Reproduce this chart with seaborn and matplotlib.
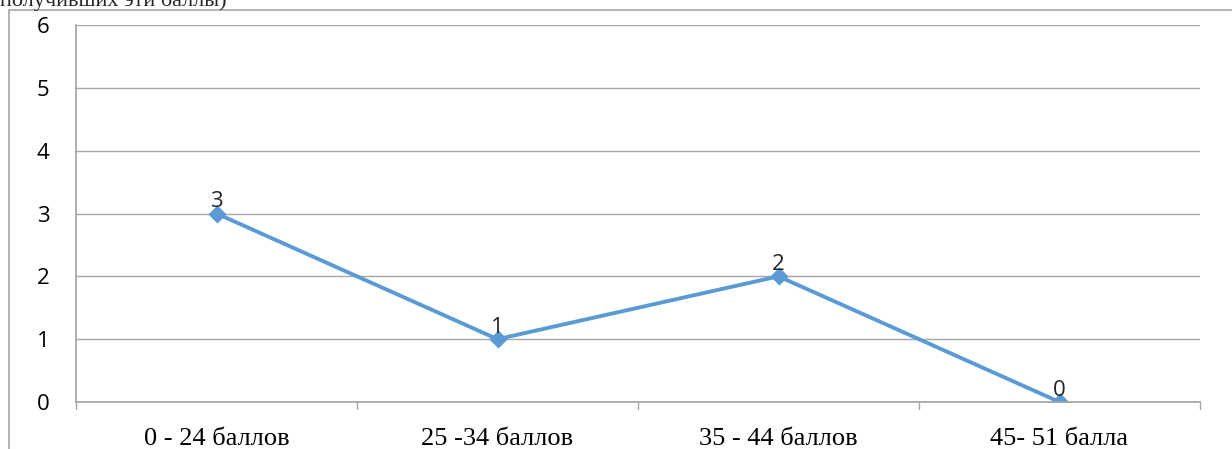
import matplotlib
matplotlib.use("Agg")
import matplotlib.pyplot as plt
import seaborn as sns
import pandas as pd
from matplotlib.patches import Rectangle

# данные
categories = ["0 - 24 баллов", "25 -34 баллов", "35 - 44 баллов", "45- 51 балла"]
counts = [3, 1, 2, 0]
y_ticks = [0, 1, 2, 3, 4, 5, 6]

sns.set_theme(style="white")
plt.rcParams['font.family'] = ['Open Sans', 'DejaVu Sans']

LINE = "#5B9BD5"
GRID = "#A6A6A6"

df = pd.DataFrame({"cat": categories, "n": counts})

fig = plt.figure(figsize=(12.32, 4.49), dpi=100)
ax = fig.add_axes([76 / 1232, 47 / 449, 1124 / 1232, 377 / 449])

sns.pointplot(data=df, x="cat", y="n", ax=ax, color=LINE, markers="D",
              markersize=7, linewidth=2.8, errorbar=None)
ax.set_xlim(-0.5, len(categories) - 0.5)
ax.set_ylim(0, 6)
ax.set_yticks(y_ticks)
ax.set_yticklabels([str(t) for t in y_ticks], fontsize=16, color="black")
ax.set_xticks(range(len(categories)))
ax.set_xticklabels(categories, fontsize=19, family="Liberation Serif", color="black")
ax.set_xlabel("")
ax.set_ylabel("")

# сетка и оси
ax.grid(axis="y", color=GRID, linewidth=1)
ax.set_axisbelow(True)
for s in ["top", "right"]:
    ax.spines[s].set_visible(False)
ax.spines["left"].set_color(GRID)
ax.spines["bottom"].set_color(GRID)
ax.tick_params(axis="y", length=9, color=GRID, pad=10, width=1)
ax.tick_params(axis="x", length=0, pad=19)
# деления между категориями
for b in [i - 0.5 for i in range(len(categories) + 1)]:
    ax.plot([b, b], [0, -0.11], color=GRID, linewidth=1, clip_on=False)

# подписи значений
for i, v in enumerate(counts):
    ax.annotate(str(v), (i, v), xytext=(0, 1), textcoords="offset points",
                ha="center", va="bottom", fontsize=16)

# рамка и обрезанный заголовок
fig.patches.append(Rectangle((9 / 1232, -0.1), 1.2, (449 - 10) / 449 + 0.1,
                             transform=fig.transFigure, fill=False,
                             edgecolor=GRID, linewidth=1.2))
fig.text(0.0, 1 - 6 / 449, "получивших эти баллы)", fontsize=16,
         family="Liberation Serif", va="baseline", ha="left")

fig.savefig("out.png", dpi=100)
